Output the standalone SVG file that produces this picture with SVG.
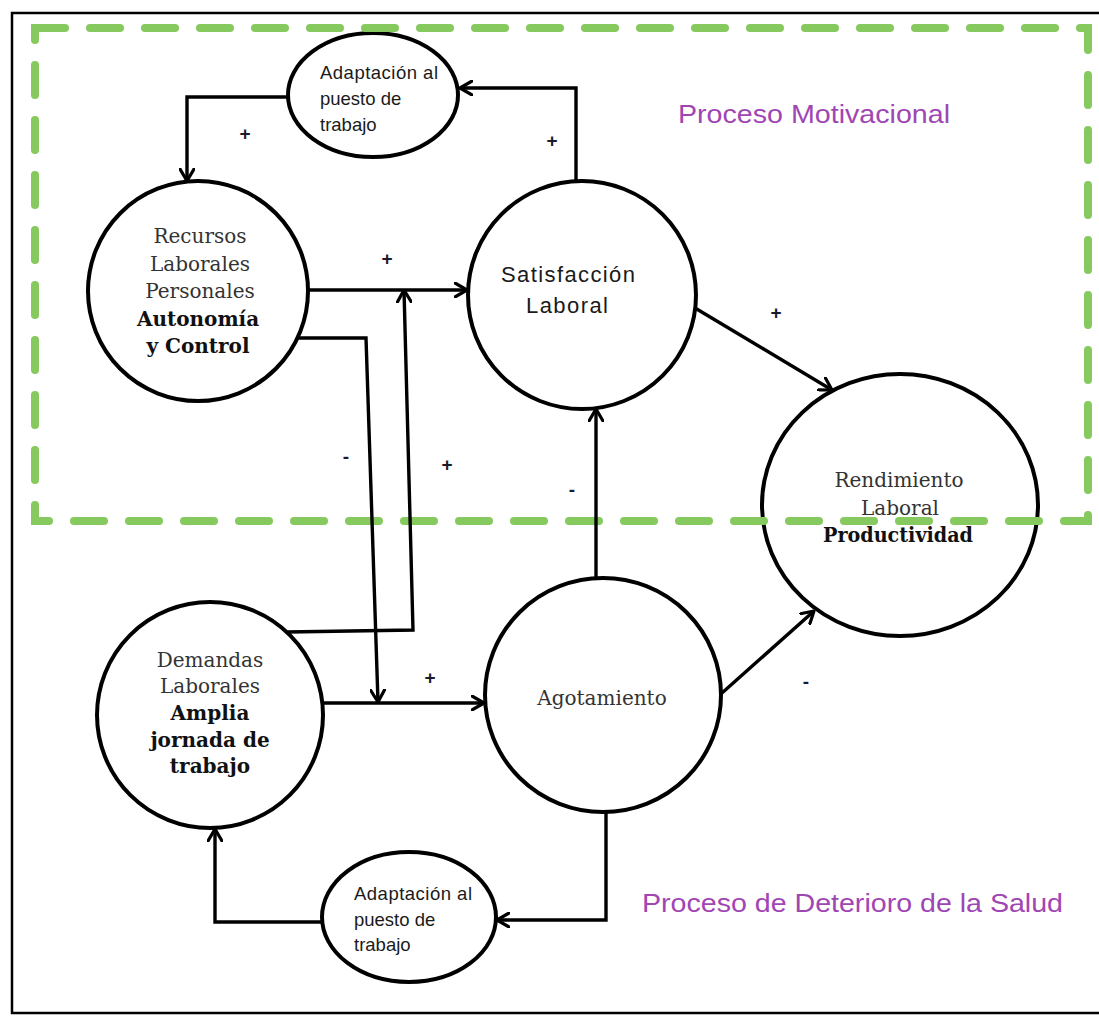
<svg xmlns="http://www.w3.org/2000/svg" width="1099" height="1017" viewBox="0 0 1099 1017">
<defs>
<marker id="arr" viewBox="0 0 14 16" refX="13" refY="8" markerWidth="14" markerHeight="16" markerUnits="userSpaceOnUse" orient="auto">
<path d="M1,1 L13,8 L1,15" fill="none" stroke="#000" stroke-width="3.2" stroke-linecap="round" stroke-linejoin="round"/>
</marker>
</defs>
<style>
.node{fill:#fff;stroke:#000;stroke-width:4}
.conn{fill:none;stroke:#000;stroke-width:3.4;stroke-linejoin:miter}
.sans{font-family:"Liberation Sans",Arial,sans-serif;fill:#1a1a1a}
.serif{font-family:"DejaVu Serif","Liberation Serif",serif;font-size:20px;fill:#333;text-anchor:middle}
.bold{font-weight:bold;fill:#111}
.small{font-size:18.5px}
.title{font-family:"Liberation Sans",Arial,sans-serif;font-size:26px;fill:#a046b4}
.sign{font-family:"Liberation Sans",Arial,sans-serif;font-size:19px;font-weight:bold;fill:#1a1a2a;text-anchor:middle}
</style>
<rect x="0" y="0" width="1099" height="1017" fill="#fff"/>
<rect x="12" y="13" width="1100" height="1000" fill="none" stroke="#000" stroke-width="2.5"/>

<g id="n-adapt-top">
<ellipse class="node" cx="373" cy="95" rx="85" ry="62"/>
<text class="sans small" x="320" y="79" textLength="118" lengthAdjust="spacing">Adaptación al</text>
<text class="sans small" x="320" y="105">puesto de</text>
<text class="sans small" x="320" y="131">trabajo</text>
</g>
<g id="n-recursos">
<circle class="node" cx="198" cy="291" r="110"/>
<text class="serif" x="200" y="243">Recursos</text>
<text class="serif" x="200" y="271">Laborales</text>
<text class="serif" x="200" y="298">Personales</text>
<text class="serif bold" x="198" y="326">Autonomía</text>
<text class="serif bold" x="198" y="353">y Control</text>
</g>
<g id="n-satisfaccion">
<circle class="node" cx="582" cy="295" r="114"/>
<text class="sans" x="568" y="282" font-size="22" text-anchor="middle" fill="#2a2a40" textLength="134" lengthAdjust="spacing">Satisfacción</text>
<text class="sans" x="567" y="313" font-size="22" text-anchor="middle" fill="#2a2a40" textLength="82" lengthAdjust="spacing">Laboral</text>
</g>
<g id="n-rendimiento">
<ellipse class="node" cx="900" cy="505" rx="138" ry="131"/>
<text class="serif" x="899" y="487">Rendimiento</text>
<text class="serif" x="900" y="515">Laboral</text>
<text class="serif bold" x="898" y="542" textLength="150" lengthAdjust="spacingAndGlyphs">Productividad</text>
</g>
<g id="n-demandas">
<circle class="node" cx="210" cy="715" r="113"/>
<text class="serif" x="210" y="667">Demandas</text>
<text class="serif" x="210" y="693">Laborales</text>
<text class="serif bold" x="210" y="720">Amplia</text>
<text class="serif bold" x="210" y="747">jornada de</text>
<text class="serif bold" x="210" y="773">trabajo</text>
</g>
<g id="n-agotamiento">
<ellipse class="node" cx="603" cy="695" rx="118" ry="117"/>
<text class="serif" x="602" y="705">Agotamiento</text>
</g>
<g id="n-adapt-bottom">
<ellipse class="node" cx="409" cy="917" rx="87" ry="65"/>
<text class="sans small" x="354" y="900" textLength="118" lengthAdjust="spacing">Adaptación al</text>
<text class="sans small" x="354" y="926">puesto de</text>
<text class="sans small" x="354" y="951">trabajo</text>
</g>

<rect id="frame-motivacional" x="35" y="28" width="1053" height="493" fill="none" stroke="#86c95e" stroke-width="8" stroke-dasharray="30 25" stroke-linecap="round"/>

<g id="connectors">
<path class="conn" d="M576,182 L576,88 L460,88" marker-end="url(#arr)"/>
<path class="conn" d="M289,97 L187,97 L187,181" marker-end="url(#arr)"/>
<path class="conn" d="M308,290 L467,290" marker-end="url(#arr)"/>
<path class="conn" d="M298,338 L366,338 L378,702" marker-end="url(#arr)"/>
<path class="conn" d="M287,632 L413,630 L404,290" marker-end="url(#arr)"/>
<path class="conn" d="M322,703 L484,703" marker-end="url(#arr)"/>
<path class="conn" d="M596,578 L596,409" marker-end="url(#arr)"/>
<path class="conn" d="M695,308 L832,390" marker-end="url(#arr)"/>
<path class="conn" d="M722,693 L814,611" marker-end="url(#arr)"/>
<path class="conn" d="M606,812 L606,920 L497,920" marker-end="url(#arr)"/>
<path class="conn" d="M323,922 L215,922 L215,829" marker-end="url(#arr)"/>
</g>

<g id="signs">
<text class="sign" x="245" y="140">+</text>
<text class="sign" x="552" y="147">+</text>
<text class="sign" x="387" y="265">+</text>
<text class="sign" x="776" y="319">+</text>
<text class="sign" x="346" y="463">-</text>
<text class="sign" x="447" y="471">+</text>
<text class="sign" x="572" y="496">-</text>
<text class="sign" x="430" y="684">+</text>
<text class="sign" x="806" y="688">-</text>
</g>

<text class="title" x="678" y="123" textLength="272" lengthAdjust="spacingAndGlyphs">Proceso Motivacional</text>
<text class="title" x="642" y="912" textLength="421" lengthAdjust="spacingAndGlyphs">Proceso de Deterioro de la Salud</text>
</svg>
